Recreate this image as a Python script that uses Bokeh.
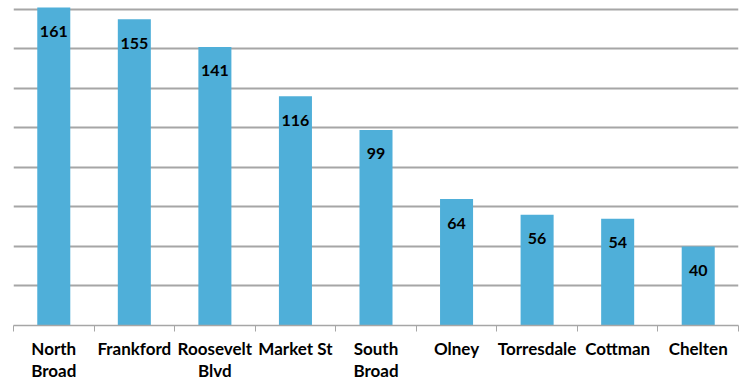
from bokeh.plotting import figure
from bokeh.models import ColumnDataSource, FixedTicker, SingleIntervalTicker, Range1d
from bokeh.core.properties import value
from bokeh.embed import file_html
from bokeh.resources import INLINE

categories = ["North\nBroad", "Frankford", "Roosevelt\nBlvd", "Market St", "South\nBroad",
              "Olney", "Torresdale", "Cottman", "Chelten"]
values = [161, 155, 141, 116, 99, 64, 56, 54, 40]

n = len(categories)
centers = [i + 0.5 for i in range(n)]
src = ColumnDataSource(dict(x=centers, top=values, label=[str(v) for v in values]))

p = figure(width=746, height=383, output_backend="svg", toolbar_location=None,
           x_range=Range1d(0, n), y_range=Range1d(0, 164.5),
           min_border_left=13, min_border_right=8, min_border_top=0, min_border_bottom=0)
p.outline_line_color = None
p.background_fill_color = "white"

p.vbar(x="x", top="top", width=0.41, source=src, color="#4fafd9", line_color=None)
p.text(x="x", y="top", text="label", source=src, text_align="center",
       text_baseline="middle", y_offset=24, text_font=value("Lato"),
       text_font_style="bold", text_font_size="16px", text_color="black")

p.yaxis.visible = False
p.ygrid.ticker = SingleIntervalTicker(interval=20)
p.ygrid.grid_line_color = "#a6a6a6"
p.ygrid.grid_line_width = 2
p.xgrid.grid_line_color = None

ax = p.xaxis[0]
ax.ticker = FixedTicker(ticks=centers, minor_ticks=list(range(n + 1)))
ax.major_label_overrides = {c: lab for c, lab in zip(centers, categories)}
ax.major_tick_line_color = None
ax.major_tick_out = 0
ax.major_tick_in = 0
ax.minor_tick_line_color = "#a6a6a6"
ax.minor_tick_out = 6
ax.minor_tick_in = 0
ax.axis_line_color = "#a6a6a6"
ax.axis_line_width = 1.5
ax.major_label_standoff = 6
ax.major_label_text_font = "Lato"
ax.major_label_text_font_style = "bold"
ax.major_label_text_font_size = "17px"
ax.major_label_text_line_height = 1.05
ax.major_label_text_color = "black"

open("out.html", "w").write(file_html(p, INLINE))
